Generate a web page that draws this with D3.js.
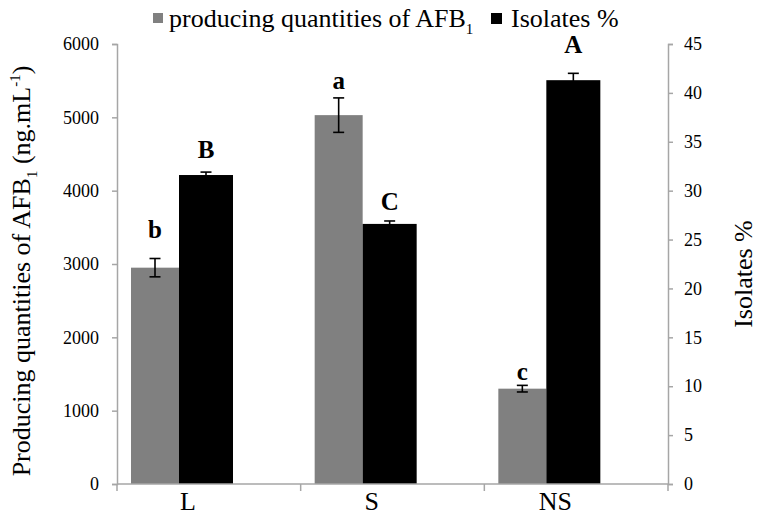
<!DOCTYPE html>
<html>
<head>
<meta charset="utf-8">
<script src="https://cdn.jsdelivr.net/npm/d3@7"></script>
<style>
  body { margin: 0; background: #fff; }
  text { font-family: "Liberation Serif", "DejaVu Serif", "Times New Roman", serif; }
</style>
</head>
<body>
<div id="chart"></div>
<script>
// data
const categories = ['L', 'S', 'NS']
const afbValues = [2950, 5030, 1300]       // ng.mL-1, left axis
const afbErrors = [125, 235, 45]
const isolateValues = [31.6, 26.6, 41.3]   // %, right axis
const isolateErrors = [0.3, 0.3, 0.7]
const afbLetters = ['b', 'a', 'c']
const afbLetterAt = [3350, 5380, 1420]     // letter baseline, left-axis units
const isoLetters = ['B', 'C', 'A']
const isoLetterAt = [33.3, 28.0, 44.1]     // letter baseline, right-axis units
const leftTicks = [0, 1000, 2000, 3000, 4000, 5000, 6000]
const rightTicks = [0, 5, 10, 15, 20, 25, 30, 35, 40, 45]

const SERIF = '"Liberation Serif", "DejaVu Serif", serif'
const W = 757, H = 516
const margin = { top: 44, right: 89, bottom: 32, left: 117 }
const innerW = W - margin.left - margin.right
const innerH = H - margin.top - margin.bottom
const axisColor = '#a6a6a6'
const grayFill = '#808080'

const svg = d3.select('#chart').append('svg')
  .attr('width', W).attr('height', H)
  .style('font-family', SERIF)

const g = svg.append('g').attr('transform', `translate(${margin.left},${margin.top})`)

const x = d3.scaleBand().domain(categories).range([0, innerW])
const yL = d3.scaleLinear().domain([0, 6000]).range([innerH, 0])
const yR = d3.scaleLinear().domain([0, 45]).range([innerH, 0])

const grayW = 48, blackW = 54, groupOff = 14
const grayX = c => x(c) + groupOff
const blackX = c => x(c) + groupOff + grayW

// bars
g.selectAll('rect.afb').data(categories).join('rect')
  .attr('class', 'afb')
  .attr('x', c => grayX(c)).attr('width', grayW)
  .attr('y', (c, i) => yL(afbValues[i]))
  .attr('height', (c, i) => innerH - yL(afbValues[i]))
  .attr('fill', grayFill)

g.selectAll('rect.iso').data(categories).join('rect')
  .attr('class', 'iso')
  .attr('x', c => blackX(c)).attr('width', blackW)
  .attr('y', (c, i) => yR(isolateValues[i]))
  .attr('height', (c, i) => innerH - yR(isolateValues[i]))
  .attr('fill', '#000')

// error bars
function errorBar(cx, yTop, yBot, cap) {
  const e = g.append('g').attr('stroke', '#000').attr('stroke-width', 1.6)
  e.append('line').attr('x1', cx).attr('x2', cx).attr('y1', yTop).attr('y2', yBot)
  e.append('line').attr('x1', cx - cap).attr('x2', cx + cap).attr('y1', yTop).attr('y2', yTop)
  e.append('line').attr('x1', cx - cap).attr('x2', cx + cap).attr('y1', yBot).attr('y2', yBot)
}
categories.forEach((c, i) => {
  errorBar(grayX(c) + grayW / 2, yL(afbValues[i] + afbErrors[i]), yL(afbValues[i] - afbErrors[i]), 5.5)
  errorBar(blackX(c) + blackW / 2, yR(isolateValues[i] + isolateErrors[i]), yR(isolateValues[i] - isolateErrors[i]), 5.5)
})

// significance letters
categories.forEach((c, i) => {
  g.append('text').attr('x', grayX(c) + grayW / 2).attr('y', yL(afbLetterAt[i]))
    .attr('text-anchor', 'middle').style('font-size', '25px').style('font-weight', 'bold')
    .style('font-family', SERIF)
    .text(afbLetters[i])
  g.append('text').attr('x', blackX(c) + blackW / 2).attr('y', yR(isoLetterAt[i]))
    .attr('text-anchor', 'middle').style('font-size', '25px').style('font-weight', 'bold')
    .style('font-family', SERIF)
    .text(isoLetters[i])
})

// axes
const leftAxis = g.append('g')
  .call(d3.axisLeft(yL).tickValues(leftTicks).tickSize(5).tickPadding(13).tickFormat(d3.format('d')))
const rightAxis = g.append('g').attr('transform', `translate(${innerW},0)`)
  .call(d3.axisRight(yR).tickValues(rightTicks).tickSize(5).tickPadding(11).tickFormat(d3.format('d')))
const bottomAxis = g.append('g').attr('transform', `translate(0,${innerH})`)
  .call(d3.axisBottom(x).tickSize(7).tickFormat(''))

;[leftAxis, rightAxis, bottomAxis].forEach(a => {
  a.attr('font-family', null)
  a.select('.domain').attr('stroke', axisColor).attr('stroke-width', 1.5)
  a.selectAll('.tick line').attr('stroke', axisColor).attr('stroke-width', 1.5)
  a.selectAll('.tick text').attr('fill', '#000').style('font-size', '18px')
    .style('font-family', SERIF)
})
// category boundary ticks instead of centred ticks
bottomAxis.selectAll('.tick').remove()
bottomAxis.select('.domain').attr('d', `M0,0H${innerW}`)
const bounds = [0, ...categories.map(c => x(c) + x.bandwidth())]
bottomAxis.selectAll('line.bound').data(bounds).join('line')
  .attr('class', 'bound')
  .attr('x1', d => d).attr('x2', d => d).attr('y1', 0).attr('y2', 7)
  .attr('stroke', axisColor).attr('stroke-width', 1.5)

// category labels
g.selectAll('text.cat').data(categories).join('text')
  .attr('class', 'cat')
  .attr('x', c => x(c) + groupOff + (grayW + blackW) / 2 + 6)
  .attr('y', innerH + 26)
  .attr('text-anchor', 'middle').style('font-size', '26px').style('font-family', SERIF)
  .text(c => c)

// axis titles
const lt = svg.append('text')
  .attr('transform', `translate(30,${margin.top + innerH / 2 + 7}) rotate(-90)`)
  .attr('text-anchor', 'middle').style('font-size', '26px').style('font-family', SERIF)
lt.append('tspan').text('Producing quantities of AFB')
lt.append('tspan').attr('dy', 7).style('font-size', '15px').text('1')
lt.append('tspan').attr('dy', -7).text(' (ng.mL')
lt.append('tspan').attr('dy', -10).style('font-size', '15px').text('-1')
lt.append('tspan').attr('dy', 10).text(')')

svg.append('text')
  .attr('transform', `translate(752,${margin.top + innerH / 2 + 10}) rotate(-90)`)
  .attr('text-anchor', 'middle').style('font-size', '26px').style('font-family', SERIF)
  .text('Isolates %')

// legend
const leg = svg.append('g')
leg.append('rect').attr('x', 153).attr('y', 13).attr('width', 10).attr('height', 10).attr('fill', grayFill)
const lt1 = leg.append('text').attr('x', 169).attr('y', 27).style('font-size', '26px').style('font-family', SERIF)
lt1.append('tspan').text('producing quantities of AFB')
lt1.append('tspan').attr('dy', 7).style('font-size', '15px').text('1')
leg.append('rect').attr('x', 491).attr('y', 13).attr('width', 11).attr('height', 11).attr('fill', '#000')
leg.append('text').attr('x', 511).attr('y', 27).style('font-size', '26px').style('font-family', SERIF).text('Isolates %')
</script>
</body>
</html>
